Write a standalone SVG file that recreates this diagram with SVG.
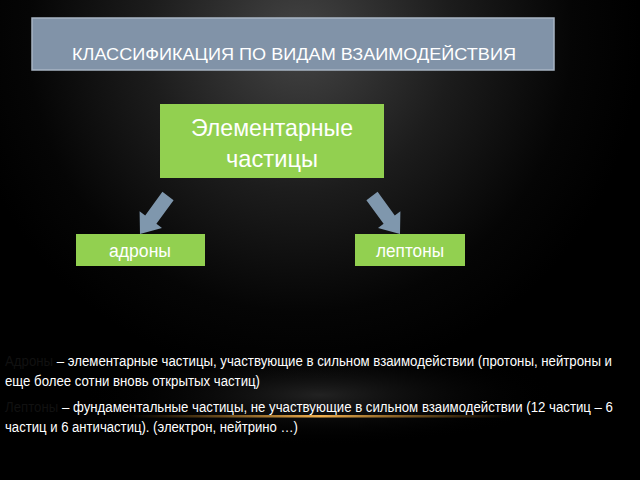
<svg xmlns="http://www.w3.org/2000/svg" width="640" height="480" viewBox="0 0 640 480">
<defs>
<radialGradient id="bg" cx="300" cy="40" r="340" gradientUnits="userSpaceOnUse">
<stop offset="0" stop-color="#444"/><stop offset="0.45" stop-color="#1c1c1c"/><stop offset="0.8" stop-color="#050505"/><stop offset="1" stop-color="#000"/>
</radialGradient>
<linearGradient id="glow" x1="0" x2="1"><stop offset="0" stop-color="#c08020" stop-opacity="0"/><stop offset="0.5" stop-color="#f0b050"/><stop offset="1" stop-color="#c08020" stop-opacity="0"/></linearGradient>
<radialGradient id="spot" cx="0.5" cy="0.5" r="0.5"><stop offset="0" stop-color="#444" stop-opacity="0.5"/><stop offset="1" stop-color="#000" stop-opacity="0"/></radialGradient>
</defs>
<style>
.t{font-family:"Liberation Sans",Arial,sans-serif;fill:#fff}
.g{fill:#92d050}
.a{fill:#7f97ad}
</style>
<rect width="640" height="480" fill="#000"/>
<rect width="640" height="480" fill="url(#bg)"/>
<ellipse cx="320" cy="395" rx="240" ry="50" fill="url(#spot)"/>
<rect x="130" y="415" width="380" height="2.5" fill="url(#glow)"/>
<g id="title">
<rect x="32" y="18" width="522" height="52" fill="#8193a8" stroke="#a8b5c4" stroke-width="1.5"/>
<text class="t" x="72" y="60" font-size="17" textLength="444" lengthAdjust="spacingAndGlyphs">КЛАССИФИКАЦИЯ ПО ВИДАМ ВЗАИМОДЕЙСТВИЯ</text>
</g>
<g id="elem">
<rect class="g" x="160" y="104" width="224" height="74"/>
<text class="t" x="272" y="136" font-size="24" text-anchor="middle" textLength="162" lengthAdjust="spacingAndGlyphs">Элементарные</text>
<text class="t" x="272" y="167" font-size="24" text-anchor="middle" textLength="92" lengthAdjust="spacingAndGlyphs">частицы</text>
</g>
<g id="hadrons">
<rect class="g" x="76" y="234" width="129" height="32"/>
<text class="t" x="140" y="257" font-size="18" text-anchor="middle" textLength="62" lengthAdjust="spacingAndGlyphs">адроны</text>
</g>
<g id="leptons">
<rect class="g" x="355" y="234" width="110" height="32"/>
<text class="t" x="410" y="257" font-size="18" text-anchor="middle" textLength="68" lengthAdjust="spacingAndGlyphs">лептоны</text>
</g>
<g id="connectors">
<polygon class="a" points="173.6,200.2 156.4,223.8 162,228 140,234 139.6,211.2 145.2,215.4 162.4,191.8"/>
<polygon class="a" points="366.4,200.2 383.6,223.8 378,228 400,234 400.4,211.2 394.8,215.4 377.6,191.8"/>
</g>
<g id="desc" font-size="14">
<text class="t" x="5" y="366" textLength="607" lengthAdjust="spacingAndGlyphs"><tspan fill="#111">Адроны</tspan> – элементарные частицы, участвующие в сильном взаимодействии (протоны, нейтроны и</text>
<text class="t" x="5" y="386" textLength="255" lengthAdjust="spacingAndGlyphs">еще более сотни вновь открытых частиц)</text>
<text class="t" x="5" y="412" textLength="608" lengthAdjust="spacingAndGlyphs"><tspan fill="#111">Лептоны</tspan> – фундаментальные частицы, не участвующие в сильном взаимодействии (12 частиц – 6</text>
<text class="t" x="5" y="432" textLength="293" lengthAdjust="spacingAndGlyphs">частиц и 6 античастиц). (электрон, нейтрино …)</text>
</g>
</svg>
